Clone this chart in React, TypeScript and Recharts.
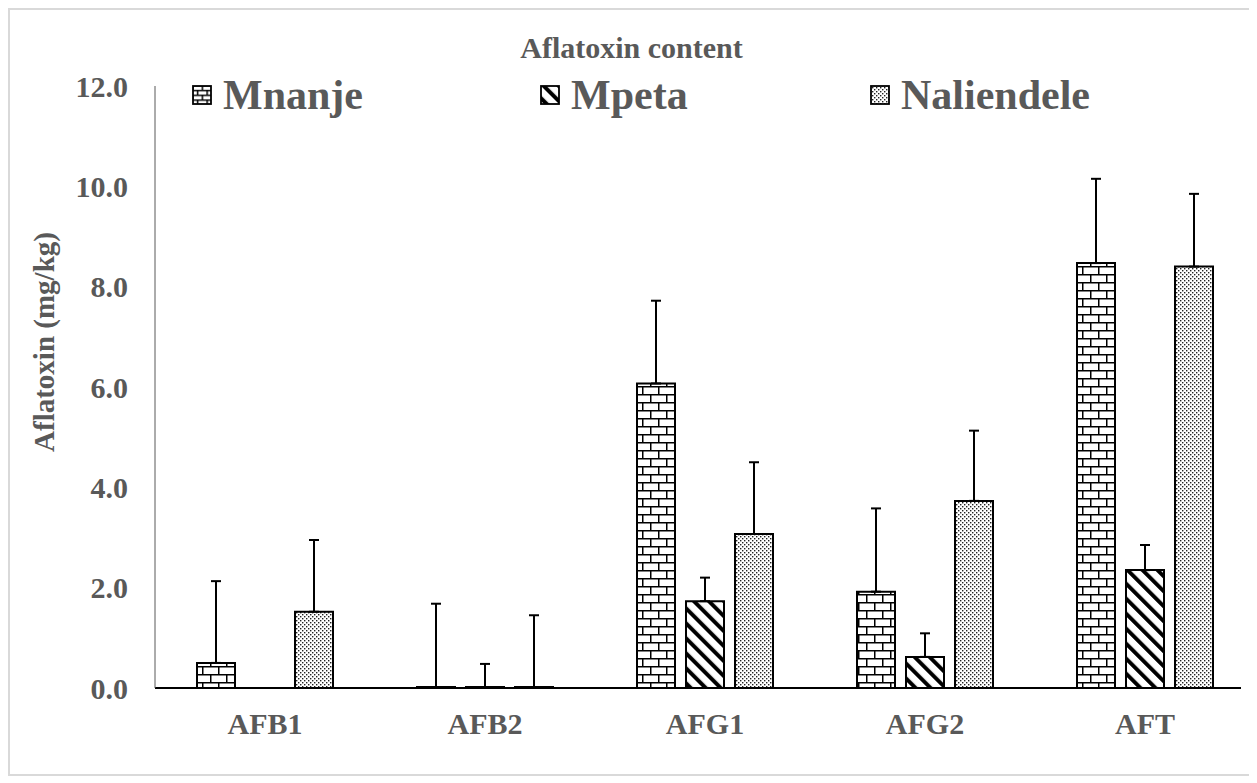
import React from 'react';
import { Bar, BarChart, ErrorBar, XAxis, YAxis } from 'recharts';

const categories = ['AFB1', 'AFB2', 'AFG1', 'AFG2', 'AFT'];
const mnanje = [0.5, 0.02, 6.07, 1.92, 8.47];
const mnanjeErr = [1.63, 1.66, 1.65, 1.66, 1.68];
const mpeta = [0, 0.02, 1.73, 0.62, 2.35];
const mpetaErr = [0.45, 0.46, 0.47, 0.47, 0.5];
const naliendele = [1.52, 0.02, 3.07, 3.73, 8.4];
const naliendeleErr = [1.43, 1.43, 1.43, 1.4, 1.45];
const yTicks = [0, 2, 4, 6, 8, 10, 12];

const series = [
  { key: 'mnanje', name: 'Mnanje', pattern: 'brick', itemWidth: 348 },
  { key: 'mpeta', name: 'Mpeta', pattern: 'diag', itemWidth: 330 },
  { key: 'naliendele', name: 'Naliendele', pattern: 'dots', itemWidth: 260 },
];

const data = categories.map((name, i) => ({
  name,
  mnanje: mnanje[i],
  mnanjeErr: [0, mnanjeErr[i]],
  mpeta: mpeta[i],
  mpetaErr: [0, mpetaErr[i]],
  naliendele: naliendele[i],
  naliendeleErr: [0, naliendeleErr[i]],
}));

const FONT = '"Liberation Serif", "Times New Roman", serif';
const TEXT = '#595959';

function Patterns({ prefix, scale = 1 }: { prefix: string; scale?: number }) {
  const b = 16 * scale;
  const h = b / 2;
  return (
    <defs>
      <pattern id={`${prefix}brick`} width={b} height={b} patternUnits="userSpaceOnUse">
        <rect width={b} height={b} fill="#fff" />
        <path
          d={`M0 0.75H${b}M0 ${h + 0.75}H${b}M0.75 0V${h + 0.75}M${h + 0.75} ${h + 0.75}V${b}`}
          stroke="#000"
          strokeWidth="1.5"
        />
      </pattern>
      <pattern
        id={`${prefix}diag`}
        width="10.6"
        height="10.6"
        patternUnits="userSpaceOnUse"
        patternTransform="rotate(-45)"
      >
        <rect width="10.6" height="10.6" fill="#fff" />
        <rect width="4" height="10.6" fill="#000" />
      </pattern>
      <pattern id={`${prefix}dots`} width="4" height="4" patternUnits="userSpaceOnUse">
        <rect width="4" height="4" fill="#fff" />
        <rect x="0" y="0" width="1.4" height="1.4" fill="#222" />
        <rect x="2" y="2" width="1.4" height="1.4" fill="#222" />
      </pattern>
    </defs>
  );
}

function LegendRow() {
  return (
    <div
      style={{
        position: 'absolute',
        left: 182,
        top: 62,
        display: 'flex',
        fontFamily: FONT,
        fontWeight: 'bold',
        fontSize: 42,
        color: TEXT,
        lineHeight: '46px',
      }}
    >
      {series.map((s) => (
        <div key={s.key} style={{ width: s.itemWidth, display: 'flex', alignItems: 'center' }}>
          <svg width="20" height="20" style={{ marginRight: 11 }}>
            <Patterns prefix={`lg-${s.key}-`} scale={0.6} />
            <rect
              x="1"
              y="1"
              width="18"
              height="18"
              fill={`url(#lg-${s.key}-${s.pattern})`}
              stroke="#000"
              strokeWidth="1.8"
            />
          </svg>
          <span>{s.name}</span>
        </div>
      ))}
    </div>
  );
}

export default function App() {
  return (
    <div
      style={{
        position: 'relative',
        width: 1243,
        height: 764,
        border: '2px solid #d9d9d9',
        background: '#fff',
      }}
    >
      <style>{'body{overflow:hidden}'}</style>
      <div
        style={{
          position: 'absolute',
          left: 0,
          right: 0,
          top: 23,
          textAlign: 'center',
          fontFamily: FONT,
          fontWeight: 'bold',
          fontSize: 30,
          lineHeight: '30px',
          color: TEXT,
        }}
      >
        Aflatoxin content
      </div>
      <BarChart
        width={1243}
        height={764}
        data={data}
        margin={{ top: 76, right: 12, bottom: 26, left: 0 }}
        barSize={38}
        barGap={11}
      >
        <Patterns prefix="ch-" />
        <XAxis
          dataKey="name"
          height={60}
          padding={{ left: 0, right: -14 }}
          tickLine={false}
          tickSize={0}
          tickMargin={25}
          axisLine={{ stroke: '#000', strokeWidth: 2 }}
          tick={{ fill: TEXT, fontSize: 30, fontWeight: 'bold', fontFamily: FONT }}
        />
        <YAxis
          width={145}
          domain={[0, 12]}
          ticks={yTicks}
          interval={0}
          tickFormatter={(v: number) => v.toFixed(1)}
          tickLine={false}
          tickSize={0}
          tickMargin={27}
          axisLine={{ stroke: '#595959', strokeWidth: 1 }}
          tick={{ fill: TEXT, fontSize: 30, fontWeight: 'bold', fontFamily: FONT }}
          label={{
            content: () => (
              <text
                x={34}
                y={332}
                transform="rotate(-90 34 332)"
                textAnchor="middle"
                dominantBaseline="central"
                fill={TEXT}
                fontSize={29}
                fontWeight="bold"
                fontFamily={FONT}
              >
                Aflatoxin (mg/kg)
              </text>
            ),
          }}
        />
        {series.map((s) => (
          <Bar
            key={s.key}
            dataKey={s.key}
            name={s.name}
            fill={`url(#ch-${s.pattern})`}
            stroke="#000"
            strokeWidth={2}
            isAnimationActive={false}
          >
            <ErrorBar
              dataKey={`${s.key}Err`}
              direction="y"
              width={5}
              stroke="#000"
              strokeWidth={2}
              isAnimationActive={false}
            />
          </Bar>
        ))}
      </BarChart>
      <LegendRow />
    </div>
  );
}
